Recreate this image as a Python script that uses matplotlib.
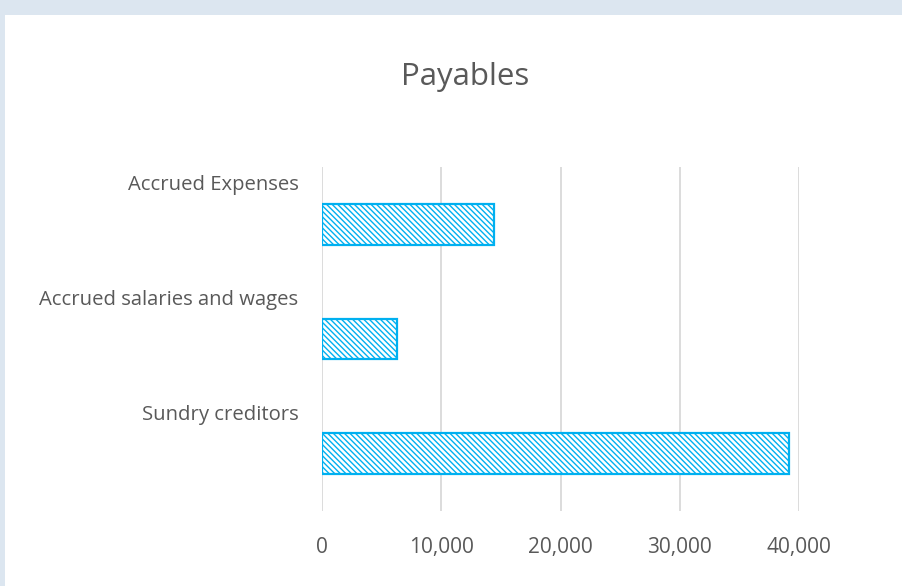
import matplotlib
matplotlib.use("Agg")
import matplotlib.pyplot as plt
from matplotlib.patches import Rectangle
from matplotlib.ticker import FuncFormatter

categories = ["Sundry creditors", "Accrued salaries and wages", "Accrued Expenses"]
values = [39200, 6300, 14400]
xticks = [0, 10000, 20000, 30000, 40000]

W, H = 903, 586
fig = plt.figure(figsize=(W / 100, H / 100), dpi=100, facecolor="#dce6f0")
fig.patches.append(Rectangle((5 / W, 0), 1, 1 - 15 / H, transform=fig.transFigure,
                             facecolor="white", edgecolor="none", zorder=-10))

plt.rcParams["hatch.linewidth"] = 1.0
font = "Open Sans"
gray = "#595959"

ax = fig.add_axes([322 / W, 1 - 511 / H, (799 - 322) / W, (511 - 167) / H])
ax.set_facecolor("none")
ypos = list(range(len(categories)))
ax.barh(ypos, values, height=0.357, color="white", edgecolor="#00b0f0",
        hatch="\\" * 6, linewidth=1.6, zorder=3)
ax.set_ylim(-0.5, len(categories) - 0.5)
ax.set_xlim(0, 40000)
ax.set_xticks(xticks)
ax.xaxis.set_major_formatter(FuncFormatter(lambda v, p: f"{int(v):,}"))
ax.set_yticks([y + 0.362 for y in ypos])
ax.set_yticklabels(categories)
ax.tick_params(axis="y", length=0, colors=gray, labelsize=14.6, pad=17)
ax.tick_params(axis="x", length=0, colors=gray, labelsize=15, pad=19)
for lab in ax.get_xticklabels() + ax.get_yticklabels():
    lab.set_fontfamily(font)
ax.grid(axis="x", color="#d9d9d9", linewidth=1.3, zorder=0)
for s in ax.spines.values():
    s.set_visible(False)

fig.text(465 / W, 1 - 77 / H, "Payables", ha="center", va="center",
         fontsize=22.5, color=gray, fontfamily=font)

fig.savefig("out.png", dpi=100, facecolor=fig.get_facecolor())
